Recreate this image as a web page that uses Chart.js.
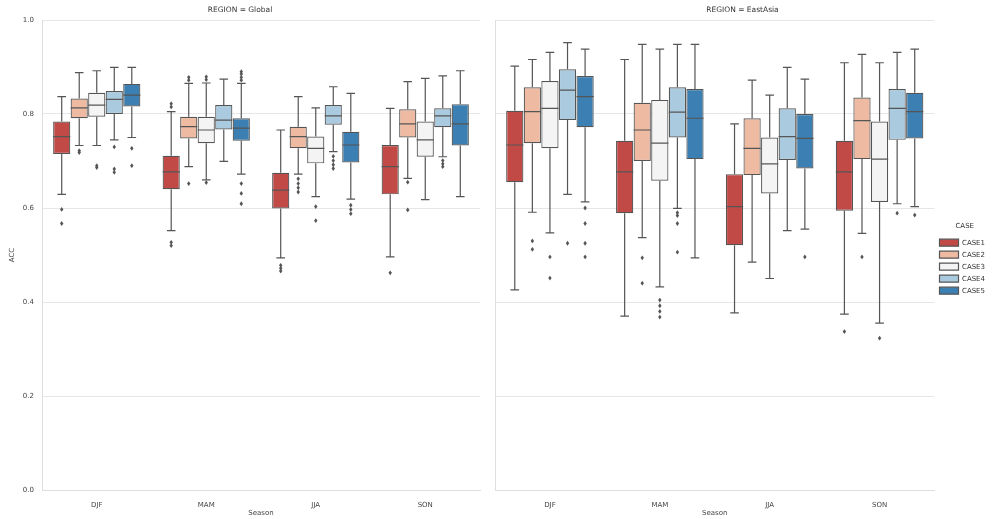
<!DOCTYPE html>
<html>
<head>
<meta charset="utf-8">
<script src="https://cdn.jsdelivr.net/npm/chart.js@4"></script>
<style>
  body { margin: 0; background: #fff; }
  .panel { position: absolute; top: 0; height: 519px; }
  #leftBox { left: 0; width: 490px; }
  #rightBox { left: 490px; width: 509px; }
</style>
</head>
<body>
<div id="leftBox" class="panel"><canvas id="globalChart"></canvas></div>
<div id="rightBox" class="panel"><canvas id="eastAsiaChart"></canvas></div>
<script>
// categories
const seasons = ['DJF', 'MAM', 'JJA', 'SON'];
const caseNames = ['CASE1', 'CASE2', 'CASE3', 'CASE4', 'CASE5'];
const yTicks = [0.0, 0.2, 0.4, 0.6, 0.8, 1.0];

// box stats per season: [whisker low, q1, median, q3, whisker high]
const globalCase1 = [[0.629, 0.715, 0.752, 0.784, 0.837], [0.552, 0.640, 0.677, 0.711, 0.805], [0.494, 0.599, 0.638, 0.675, 0.766], [0.496, 0.629, 0.688, 0.734, 0.812]];
const globalCase2 = [[0.733, 0.791, 0.813, 0.833, 0.888], [0.688, 0.748, 0.773, 0.794, 0.865], [0.672, 0.727, 0.752, 0.773, 0.837], [0.663, 0.750, 0.779, 0.810, 0.869]];
const globalCase3 = [[0.733, 0.794, 0.819, 0.845, 0.892], [0.660, 0.738, 0.766, 0.794, 0.866], [0.624, 0.695, 0.727, 0.752, 0.813], [0.618, 0.709, 0.745, 0.784, 0.876]];
const globalCase4 = [[0.745, 0.800, 0.831, 0.849, 0.899], [0.699, 0.767, 0.787, 0.819, 0.874], [0.720, 0.777, 0.796, 0.819, 0.858], [0.709, 0.772, 0.796, 0.812, 0.881]];
const globalCase5 = [[0.750, 0.816, 0.840, 0.864, 0.899], [0.672, 0.743, 0.770, 0.791, 0.865], [0.619, 0.697, 0.734, 0.762, 0.844], [0.624, 0.733, 0.779, 0.821, 0.892]];

// outliers per season
const globalOut1 = [[0.597, 0.567], [0.815, 0.822, 0.527, 0.520], [0.478, 0.472, 0.466], [0.462]];
const globalOut2 = [[0.722, 0.718], [0.872, 0.878, 0.652], [0.662, 0.652, 0.643, 0.634], [0.655, 0.596]];
const globalOut3 = [[0.690, 0.686], [0.873, 0.879, 0.654], [0.603, 0.573], []];
const globalOut4 = [[0.730, 0.683, 0.676], [], [0.710, 0.701, 0.692, 0.684], [0.701, 0.694, 0.688]];
const globalOut5 = [[0.727, 0.690], [0.872, 0.878, 0.885, 0.890, 0.652, 0.631, 0.609], [0.606, 0.597, 0.588], []];

const eastCase1 = [[0.426, 0.655, 0.734, 0.807, 0.902], [0.370, 0.589, 0.677, 0.743, 0.916], [0.377, 0.521, 0.603, 0.672, 0.779], [0.374, 0.594, 0.677, 0.743, 0.909]];
const eastCase2 = [[0.591, 0.738, 0.805, 0.857, 0.916], [0.537, 0.700, 0.766, 0.824, 0.948], [0.485, 0.670, 0.727, 0.791, 0.872], [0.546, 0.704, 0.786, 0.835, 0.927]];
const eastCase3 = [[0.547, 0.727, 0.812, 0.870, 0.931], [0.432, 0.658, 0.738, 0.830, 0.938], [0.450, 0.631, 0.694, 0.750, 0.840], [0.355, 0.613, 0.704, 0.784, 0.909]];
const eastCase4 = [[0.629, 0.787, 0.851, 0.895, 0.952], [0.599, 0.750, 0.804, 0.857, 0.948], [0.552, 0.702, 0.752, 0.812, 0.899], [0.609, 0.745, 0.812, 0.853, 0.931]];
const eastCase5 = [[0.613, 0.772, 0.837, 0.881, 0.938], [0.494, 0.704, 0.791, 0.853, 0.948], [0.555, 0.684, 0.748, 0.800, 0.874], [0.603, 0.748, 0.805, 0.845, 0.938]];

const eastOut1 = [[], [], [], [0.337]];
const eastOut2 = [[0.530, 0.512], [0.494, 0.440], [], [0.496]];
const eastOut3 = [[0.496, 0.451], [0.404, 0.392, 0.380, 0.368], [], [0.323]];
const eastOut4 = [[0.525], [0.590, 0.584, 0.567, 0.506], [], [0.589]];
const eastOut5 = [[0.600, 0.567, 0.525, 0.496], [], [0.496], [0.585]];

const caseColors = ['#c24a46', '#eebaa2', '#f4f4f4', '#aacbdf', '#3b7fb3'];
const lineGray = '#555555';

// whiskers, caps, medians and fliers drawn on top of the floating bars
const boxExtras = {
    id: 'boxExtras',
    afterDatasetsDraw(chart) {
        const ctx = chart.ctx;
        const ys = chart.scales.y;
        chart.data.datasets.forEach((ds, i) => {
            const meta = chart.getDatasetMeta(i);
            meta.data.forEach((bar, j) => {
                const s = ds.stats[j];
                const x = bar.x;
                const half = bar.width / 2;
                const cap = half / 2;
                const pLo = ys.getPixelForValue(s[0]);
                const pQ1 = ys.getPixelForValue(s[1]);
                const pMed = ys.getPixelForValue(s[2]);
                const pQ3 = ys.getPixelForValue(s[3]);
                const pHi = ys.getPixelForValue(s[4]);
                ctx.save();
                ctx.strokeStyle = lineGray;
                ctx.lineWidth = 1.2;
                ctx.beginPath();
                ctx.moveTo(x, pQ3); ctx.lineTo(x, pHi);
                ctx.moveTo(x, pQ1); ctx.lineTo(x, pLo);
                ctx.moveTo(x - cap, pHi); ctx.lineTo(x + cap, pHi);
                ctx.moveTo(x - cap, pLo); ctx.lineTo(x + cap, pLo);
                ctx.moveTo(x - half, pMed); ctx.lineTo(x + half, pMed);
                ctx.stroke();
                ctx.fillStyle = lineGray;
                ds.fliers[j].forEach(v => {
                    const py = ys.getPixelForValue(v);
                    ctx.beginPath();
                    ctx.moveTo(x, py - 2.4);
                    ctx.lineTo(x + 1.7, py);
                    ctx.lineTo(x, py + 2.4);
                    ctx.lineTo(x - 1.7, py);
                    ctx.closePath();
                    ctx.fill();
                });
                ctx.restore();
            });
        });
    }
};

function makeDatasets(stats, fliers) {
    return caseNames.map((name, i) => ({
        label: name,
        data: stats[i].map(s => [s[1], s[3]]),
        stats: stats[i],
        fliers: fliers[i],
        backgroundColor: caseColors[i],
        borderColor: lineGray,
        borderWidth: 1.2,
        borderSkipped: false,
        categoryPercentage: 0.8,
        barPercentage: 0.98
    }));
}

const tickFont = { family: 'DejaVu Sans', size: 7 };

function makeOptions(title, showYLabels, showLegend) {
    return {
        responsive: true,
        maintainAspectRatio: false,
        animation: false,
        layout: { padding: { left: 0, right: showLegend ? 4 : 10, top: 0, bottom: 0 } },
        plugins: {
            tooltip: { enabled: false },
            title: {
                display: true,
                text: title,
                color: '#333',
                font: { family: 'DejaVu Sans', size: 7.5, weight: 'normal' },
                padding: { top: 6, bottom: 5 }
            },
            legend: {
                display: showLegend,
                position: 'right',
                labels: {
                    boxWidth: 19,
                    boxHeight: 7,
                    padding: 5,
                    color: '#333',
                    font: tickFont
                },
                title: {
                    display: true,
                    text: 'CASE',
                    color: '#333',
                    font: tickFont,
                    padding: 3
                }
            }
        },
        scales: {
            x: {
                type: 'category',
                labels: seasons,
                grid: { display: false },
                border: { display: true, color: '#dedede' },
                ticks: { color: '#444', font: tickFont, padding: 3 },
                title: { display: true, text: 'Season', color: '#444', font: tickFont, padding: { top: 1, bottom: 2 } },
                afterFit: (s) => { s.height = 29; }
            },
            y: {
                min: 0,
                max: 1,
                afterBuildTicks: (s) => { s.ticks = yTicks.map(v => ({ value: v })); },
                grid: { color: '#e6e6e6', drawTicks: false },
                border: { display: true, color: '#dedede' },
                ticks: {
                    display: showYLabels,
                    color: '#444',
                    font: tickFont,
                    padding: 8,
                    callback: (v) => Number(v).toFixed(1)
                },
                title: { display: showYLabels, text: 'ACC', color: '#444', font: tickFont, padding: { top: 8, bottom: 4 } },
                afterFit: (s) => { s.width = showYLabels ? 42 : 5; }
            }
        }
    };
}

new Chart(document.getElementById('globalChart').getContext('2d'), {
    type: 'bar',
    data: {
        labels: seasons,
        datasets: makeDatasets(
            [globalCase1, globalCase2, globalCase3, globalCase4, globalCase5],
            [globalOut1, globalOut2, globalOut3, globalOut4, globalOut5])
    },
    options: makeOptions('REGION = Global', true, false),
    plugins: [boxExtras]
});

new Chart(document.getElementById('eastAsiaChart').getContext('2d'), {
    type: 'bar',
    data: {
        labels: seasons,
        datasets: makeDatasets(
            [eastCase1, eastCase2, eastCase3, eastCase4, eastCase5],
            [eastOut1, eastOut2, eastOut3, eastOut4, eastOut5])
    },
    options: makeOptions('REGION = EastAsia', false, true),
    plugins: [boxExtras]
});
</script>
</body>
</html>
